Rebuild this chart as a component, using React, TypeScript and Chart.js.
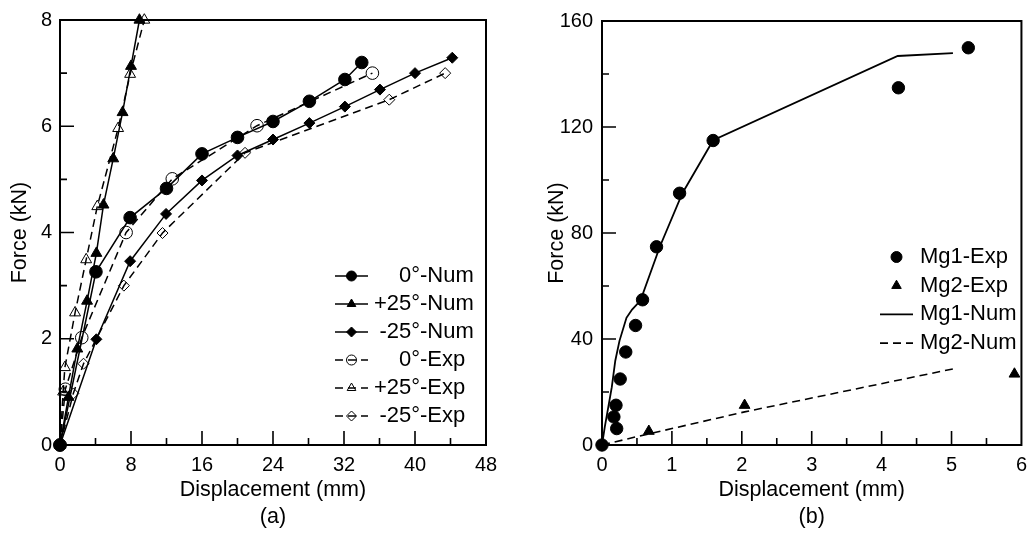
import React, { useEffect, useRef } from "react";
import { Chart, registerables } from "chart.js";

Chart.register(...registerables);

// ---------- Data: panel (a) ----------
const dispNum0 = [0, 4.05, 7.9, 12.0, 16.0, 20.0, 24.0, 28.1, 32.1, 34.0];
const forceNum0 = [0, 3.26, 4.28, 4.83, 5.48, 5.79, 6.09, 6.47, 6.88, 7.2];
const dispNumP25 = [0, 0.95, 1.95, 3.05, 4.1, 4.9, 6.0, 7.05, 8.0, 8.95];
const forceNumP25 = [0, 0.9, 1.81, 2.71, 3.61, 4.52, 5.39, 6.26, 7.13, 8.0];
const dispNumM25 = [0, 4.1, 7.9, 11.95, 16.0, 20.0, 24.0, 28.1, 32.1, 36.05, 40.0, 44.2];
const forceNumM25 = [0, 1.99, 3.46, 4.35, 4.98, 5.45, 5.75, 6.06, 6.37, 6.69, 7.0, 7.29];
const dispExp0 = [0, 0.6, 2.45, 7.45, 12.65, 22.2, 35.2];
const forceExp0 = [0, 1.05, 2.02, 4.0, 5.01, 6.01, 7.0];
const dispExpP25 = [0, 0.35, 0.55, 1.7, 2.95, 4.2, 6.55, 7.9, 9.5];
const forceExpP25 = [0, 1.0, 1.46, 2.49, 3.49, 4.49, 5.96, 6.98, 8.0];
const dispExpM25 = [0, 1.5, 2.65, 7.2, 11.55, 20.85, 37.1, 43.4];
const forceExpM25 = [0, 0.97, 1.53, 3.0, 3.99, 5.5, 6.5, 7.0];
const labelsA = ["0°-Num", "+25°-Num", "-25°-Num", "0°-Exp", "+25°-Exp", "-25°-Exp"];

// ---------- Data: panel (b) ----------
const dispMg1Exp = [0, 0.21, 0.17, 0.2, 0.26, 0.34, 0.48, 0.58, 0.78, 1.11, 1.59, 4.24, 5.24];
const forceMg1Exp = [0, 6.2, 10.6, 15, 24.9, 35.1, 45.1, 54.8, 74.8, 95, 114.9, 134.8, 149.9];
const dispMg2Exp = [0.67, 2.04, 5.9];
const forceMg2Exp = [5.2, 15, 26.8];
const dispMg1Num = [0, 0.04, 0.09, 0.14, 0.19, 0.25, 0.35, 0.43, 0.55, 0.83, 1.15, 1.59, 4.23, 5.02];
const forceMg1Num = [0, 6.8, 14.3, 21.8, 31.8, 39.3, 48, 51.1, 54.5, 75, 95, 115, 146.8, 147.9];
const dispMg2Num = [0, 0.49, 1.0, 2.04, 5.02];
const forceMg2Num = [0, 3.1, 6.2, 12.5, 28.7];
const labelsB = ["Mg1-Exp", "Mg2-Exp", "Mg1-Num", "Mg2-Num"];

// ---------- Axes ----------
const axisA = { xMin: 0, xMax: 48, xStep: 8, yMin: 0, yMax: 8, yStep: 2 };
const axisB = { xMin: 0, xMax: 6, xStep: 1, yMin: 0, yMax: 160, yStep: 40 };
const xTitle = "Displacement (mm)";
const yTitle = "Force (kN)";
const panelA = "(a)";
const panelB = "(b)";

const FONT = "'Liberation Sans', Arial, Helvetica, sans-serif";
const DASH = [8, 5];

function pts(xs: number[], ys: number[]) {
  return xs.map((x, i) => ({ x, y: ys[i] }));
}

function drawMarker(ctx: CanvasRenderingContext2D, style: string, x: number, y: number, r: number, fill: string) {
  ctx.beginPath();
  if (style === "circle") {
    ctx.arc(x, y, r, 0, Math.PI * 2);
  } else if (style === "triangle") {
    ctx.moveTo(x, y - r);
    ctx.lineTo(x + r * Math.sin((2 * Math.PI) / 3), y - r * Math.cos((2 * Math.PI) / 3));
    ctx.lineTo(x + r * Math.sin((4 * Math.PI) / 3), y - r * Math.cos((4 * Math.PI) / 3));
    ctx.closePath();
  } else {
    ctx.moveTo(x - r, y);
    ctx.lineTo(x, y - r);
    ctx.lineTo(x + r, y);
    ctx.lineTo(x, y + r);
    ctx.closePath();
  }
  ctx.fillStyle = fill;
  ctx.fill();
  ctx.setLineDash([]);
  ctx.lineWidth = 1;
  ctx.strokeStyle = "#000";
  ctx.stroke();
}

const framePlugin = {
  id: "frameTicks",
  beforeDatasetsDraw(chart: any) {
    const { ctx, chartArea: a, scales } = chart;
    const xs = scales.x;
    const ys = scales.y;
    ctx.save();
    ctx.strokeStyle = "#000";
    ctx.lineWidth = 1.6;
    ctx.beginPath();
    const xv = xs.ticks.map((t: any) => t.value);
    xv.forEach((v: number, i: number) => {
      const p = xs.getPixelForValue(v);
      if (v > xs.min && v < xs.max) {
        ctx.moveTo(p, a.bottom);
        ctx.lineTo(p, a.bottom - 14);
      }
      if (i < xv.length - 1) {
        const m = xs.getPixelForValue((v + xv[i + 1]) / 2);
        ctx.moveTo(m, a.bottom);
        ctx.lineTo(m, a.bottom - 7);
      }
    });
    const yv = ys.ticks.map((t: any) => t.value);
    yv.forEach((v: number, i: number) => {
      const p = ys.getPixelForValue(v);
      if (v > ys.min && v < ys.max) {
        ctx.moveTo(a.left, p);
        ctx.lineTo(a.left + 14, p);
      }
      if (i < yv.length - 1) {
        const m = ys.getPixelForValue((v + yv[i + 1]) / 2);
        ctx.moveTo(a.left, m);
        ctx.lineTo(a.left + 7, m);
      }
    });
    ctx.stroke();
    ctx.lineWidth = 2;
    ctx.strokeRect(a.left, a.top, a.right - a.left, a.bottom - a.top);
    ctx.restore();
  },
};

const legendPlugin = {
  id: "sketchLegend",
  afterDraw(chart: any, _args: any, opts: any) {
    if (!opts || opts.y0 === undefined) return;
    const ctx: CanvasRenderingContext2D = chart.ctx;
    ctx.save();
    ctx.font = `${opts.fontSize}px ${FONT}`;
    ctx.textBaseline = "middle";
    ctx.fillStyle = "#000";
    ctx.strokeStyle = "#000";
    chart.data.datasets.forEach((ds: any, i: number) => {
      const y = opts.y0 + i * opts.dy;
      const cx = (opts.lineX0 + opts.lineX1) / 2;
      if (ds.showLine) {
        ctx.setLineDash(ds.borderDash || []);
        ctx.lineWidth = ds.borderWidth;
        ctx.beginPath();
        ctx.moveTo(opts.lineX0, y);
        ctx.lineTo(opts.lineX1, y);
        ctx.stroke();
        ctx.setLineDash([]);
      }
      if (ds.pointRadius > 0) {
        drawMarker(ctx, ds.pointStyle, cx, y, opts.markerR, ds.pointBackgroundColor);
      }
      ctx.fillStyle = "#000";
      let tx = opts.textX;
      if (opts.alignChar) {
        const k = ds.label.indexOf(opts.alignChar);
        if (k >= 0) {
          tx = opts.alignX - ctx.measureText(ds.label.slice(0, k + 1)).width;
        }
      }
      ctx.textAlign = "left";
      ctx.fillText(ds.label, tx, y);
    });
    ctx.restore();
  },
};

function lineSet(label: string, xs: number[], ys: number[], style: string, filled: boolean, dashed: boolean, r: number) {
  return {
    label,
    data: pts(xs, ys),
    showLine: true,
    borderColor: "#000",
    borderWidth: 1.5,
    borderDash: dashed ? DASH : [],
    pointStyle: style,
    pointRadius: r,
    pointHoverRadius: r,
    pointBackgroundColor: filled ? "#000" : "rgba(0,0,0,0)",
    pointBorderColor: "#000",
    pointBorderWidth: 1,
    clip: false,
    tension: 0,
  };
}

function makeScales(ax: any, titleLines: string[], yWidth: number, yTitlePad: number, yTickPad: number) {
  const tickFont = { family: FONT, size: 20 };
  return {
    x: {
      type: "linear",
      min: ax.xMin,
      max: ax.xMax,
      ticks: { stepSize: ax.xStep, font: tickFont, color: "#000", padding: 8, maxRotation: 0, autoSkip: false },
      grid: { display: false, drawTicks: false },
      border: { display: false },
      title: {
        display: true,
        text: titleLines,
        color: "#000",
        font: { family: FONT, size: 21.5, lineHeight: "27px" },
        padding: { top: 0, bottom: 5.5 },
      },
      afterFit(s: any) {
        s.height = 91;
      },
    },
    y: {
      type: "linear",
      min: ax.yMin,
      max: ax.yMax,
      ticks: { stepSize: ax.yStep, font: tickFont, color: "#000", padding: yTickPad, autoSkip: false },
      grid: { display: false, drawTicks: false },
      border: { display: false },
      title: {
        display: true,
        text: yTitle,
        color: "#000",
        font: { family: FONT, size: 21.5 },
        padding: { top: yTitlePad, bottom: 0 },
      },
      afterFit(s: any) {
        s.width = yWidth;
      },
    },
  };
}

export default function App() {
  const refA = useRef<HTMLCanvasElement>(null);
  const refB = useRef<HTMLCanvasElement>(null);

  useEffect(() => {
    const chartA = new Chart(refA.current as HTMLCanvasElement, {
      type: "scatter",
      data: {
        datasets: [
          lineSet(labelsA[0], dispNum0, forceNum0, "circle", true, false, 6.3),
          lineSet(labelsA[1], dispNumP25, forceNumP25, "triangle", true, false, 6.3),
          lineSet(labelsA[2], dispNumM25, forceNumM25, "rectRot", true, false, 5.5),
          lineSet(labelsA[3], dispExp0, forceExp0, "circle", false, true, 6.3),
          lineSet(labelsA[4], dispExpP25, forceExpP25, "triangle", false, true, 6.3),
          lineSet(labelsA[5], dispExpM25, forceExpM25, "rectRot", false, true, 5.5),
        ],
      },
      options: {
        responsive: false,
        animation: false,
        devicePixelRatio: 1,
        layout: { padding: { left: 0, top: 17, right: 31, bottom: 0 } },
        scales: makeScales(axisA, [xTitle, panelA], 60, 7.2, 8) as any,
        plugins: {
          legend: { display: false },
          tooltip: { enabled: false },
          sketchLegend: {
            y0: 276,
            dy: 28,
            lineX0: 335,
            lineX1: 368,
            markerR: 5,
            fontSize: 22,
            alignChar: "°",
            alignX: 420,
            textX: 372,
          },
        } as any,
      },
      plugins: [framePlugin, legendPlugin],
    });

    const chartB = new Chart(refB.current as HTMLCanvasElement, {
      type: "scatter",
      data: {
        datasets: [
          {
            label: labelsB[0],
            data: pts(dispMg1Exp, forceMg1Exp),
            showLine: false,
            pointStyle: "circle",
            pointRadius: 6.2,
            pointBackgroundColor: "#000",
            pointBorderColor: "#000",
            pointBorderWidth: 1,
            clip: false,
          },
          {
            label: labelsB[1],
            data: pts(dispMg2Exp, forceMg2Exp),
            showLine: false,
            pointStyle: "triangle",
            pointRadius: 6.2,
            pointBackgroundColor: "#000",
            pointBorderColor: "#000",
            pointBorderWidth: 1,
            clip: false,
          },
          {
            label: labelsB[2],
            data: pts(dispMg1Num, forceMg1Num),
            showLine: true,
            borderColor: "#000",
            borderWidth: 1.8,
            borderDash: [],
            pointRadius: 0,
            clip: false,
          },
          {
            label: labelsB[3],
            data: pts(dispMg2Num, forceMg2Num),
            showLine: true,
            borderColor: "#000",
            borderWidth: 1.6,
            borderDash: DASH,
            pointRadius: 0,
            clip: false,
          },
        ] as any,
      },
      options: {
        responsive: false,
        animation: false,
        devicePixelRatio: 1,
        layout: { padding: { left: 0, top: 17, right: 7, bottom: 0 } },
        scales: makeScales(axisB, [xTitle, panelB], 85, 27.2, 9) as any,
        plugins: {
          legend: { display: false },
          tooltip: { enabled: false },
          sketchLegend: {
            y0: 257,
            dy: 28.7,
            lineX0: 363,
            lineX1: 396,
            markerR: 5.5,
            fontSize: 22,
            textX: 403,
          },
        } as any,
      },
      plugins: [framePlugin, legendPlugin],
    });

    return () => {
      chartA.destroy();
      chartB.destroy();
    };
  }, []);

  return (
    <div style={{ position: "absolute", left: 0, top: 0, width: 1035, height: 536, background: "#fff" }}>
      <canvas ref={refA} width={517} height={536} style={{ position: "absolute", left: 0, top: 0 }} />
      <canvas ref={refB} width={518} height={536} style={{ position: "absolute", left: 517, top: 0 }} />
    </div>
  );
}
